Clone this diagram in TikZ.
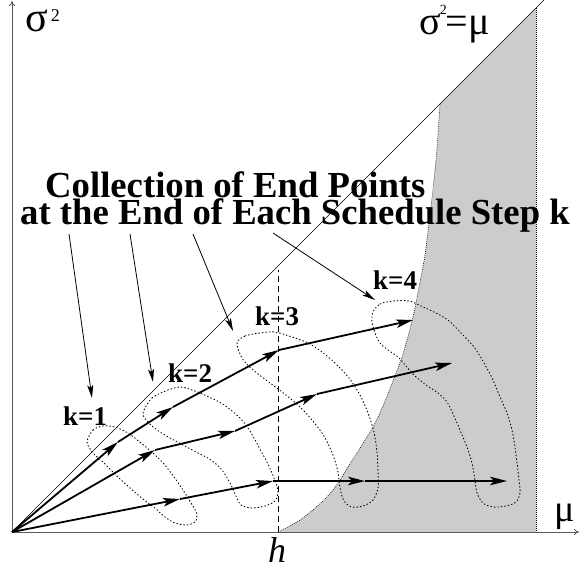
\documentclass[tikz,border=0pt]{standalone}
\usepackage{fontspec}
\setmainfont{Liberation Serif}
\usetikzlibrary{arrows.meta}
\definecolor{shadegray}{RGB}{204,204,204}
\definecolor{axisgray}{RGB}{90,90,90}
\begin{document}
\begin{tikzpicture}[x=1pt,y=-1pt,
  traj/.style={line width=1.8pt,-{Stealth[length=17pt,width=8.5pt,inset=4pt]}},
  pointer/.style={line width=0.8pt,-{Stealth[length=13pt,width=6pt,inset=3pt]}},
  blob/.style={line width=0.9pt,dash pattern=on 0.9pt off 2.6pt,line cap=round},
  bound/.style={line width=0.6pt,dash pattern=on 0.8pt off 1.2pt},
  axis/.style={line width=0.8pt,draw=axisgray,-{To[length=5pt,width=6pt]}},
  bigtxt/.style={font=\fontsize{36.7}{40}\selectfont\bfseries,inner sep=0pt,anchor=base west},
  klab/.style={font=\fontsize{27}{30}\selectfont\bfseries,inner sep=0pt,anchor=base west},
  symtxt/.style={inner sep=0pt,anchor=base west}]
\useasboundingbox (0,0) rectangle (580,571);
\fill[white] (0,0) rectangle (580,571);
% shaded region
\fill[shadegray] plot[smooth] coordinates {(278,532) (300,520) (323,501) (336,486) (348,467) (360,448) (373,427) (383,406) (393,381) (402,357) (409,333) (415,308) (420,282) (425,255) (430,215) (436,160) (440,104)} -- (536,8) -- (536,532) -- cycle;
\draw[bound] plot[smooth] coordinates {(278,532) (300,520) (323,501) (336,486) (348,467) (360,448) (373,427) (383,406) (393,381) (402,357) (409,333) (415,308) (420,282) (425,255) (430,215) (436,160) (440,104)};
\draw[bound] (536,8) -- (536,532);
% coordinates
\coordinate (O) at (12,532);
\coordinate (diagend) at (544,0);
\coordinate (xend) at (579,532);
\coordinate (yend) at (12,1);
\coordinate (htop) at (278,270);
\coordinate (hbot) at (278,532);
% diagonal
\draw[line width=0.5pt] (O) -- (diagend);
% axes
\draw[axis] (O) -- (xend);
\draw[axis] (O) -- (yend);
% dashed h line
\draw[line width=0.8pt,dash pattern=on 6pt off 4pt] (hbot) -- (htop);
% blobs
\draw[blob] plot[smooth cycle] coordinates {(87,442) (93,430) (103,426) (115,427) (128,433) (141,443) (153,453) (164,464) (174,477) (183,490) (191,503) (197,514) (195,522) (186,525) (175,523) (165,517) (156,509) (143,499) (130,488) (117,476) (104,463) (93,453)};
\draw[blob] plot[smooth cycle] coordinates {(143,413) (152,398) (168,390) (181,387) (195,391) (209,397) (221,403) (232,411) (241,419) (248,428) (254,438) (261,451) (268,464) (274,478) (278,491) (275,501) (265,506) (252,508) (241,505) (236,496) (230,483) (222,470) (211,460) (198,453) (185,446) (170,438) (157,430) (148,422)};
\draw[blob] plot[smooth cycle] coordinates {(237,343) (245,336) (260,333) (275,332) (292,337) (308,343) (322,352) (336,364) (349,378) (360,395) (368,413) (374,432) (377,452) (378,472) (378,488) (373,500) (363,506) (352,507) (344,501) (340,488) (338,472) (333,455) (324,436) (312,420) (298,405) (282,392) (266,380) (252,369) (242,358)};
\draw[blob] plot[smooth cycle] coordinates {(373,312) (380,304) (393,301) (409,301) (421,306) (434,312) (448,320) (461,333) (474,347) (484,363) (493,380) (500,397) (507,413) (512,430) (515,447) (517,463) (519,480) (520,493) (516,502) (506,506) (493,507) (483,503) (477,493) (475,480) (472,463) (467,447) (460,430) (453,414) (447,402) (438,393) (426,385) (415,376) (406,366) (398,357) (388,350) (380,343) (375,333) (372,322)};
% trajectory points
\coordinate (a1) at (118,442); \coordinate (a2) at (173,407); \coordinate (a3) at (279,350); \coordinate (a4) at (413,320);
\coordinate (b1) at (155,450); \coordinate (b2) at (235,431); \coordinate (b3) at (317,394); \coordinate (b4) at (452,363);
\coordinate (c1) at (180,499); \coordinate (c2) at (273,481); \coordinate (c3) at (365,481); \coordinate (c4) at (507,481);
\draw[traj] (O) -- (a1); \draw[traj] (a1) -- (a2); \draw[traj] (a2) -- (a3); \draw[traj] (a3) -- (a4);
\draw[traj] (O) -- (b1); \draw[traj] (b1) -- (b2); \draw[traj] (b2) -- (b3); \draw[traj] (b3) -- (b4);
\draw[traj] (O) -- (c1); \draw[traj] (c1) -- (c2); \draw[traj] (c2) -- (c3); \draw[traj] (c3) -- (c4);
% texts
\node[bigtxt] (t1) at (45,197) {Collection of End Points};
\node[bigtxt] (t2) at (20,224) {at the End of Each Schedule Step k};
\node[klab] (k1) at (63,425) {k=1};
\node[klab] (k2) at (168,382) {k=2};
\node[klab] (k3) at (255,325) {k=3};
\node[klab] (k4) at (373,289) {k=4};
% pointers
\coordinate (p1) at (69,234); \coordinate (q1) at (92,398);
\coordinate (p2) at (130,234); \coordinate (q2) at (153,382);
\coordinate (p3) at (193,234); \coordinate (q3) at (233,331);
\coordinate (p4) at (273,233); \coordinate (q4) at (375,300);
\draw[pointer] (p1) -- (q1);
\draw[pointer] (p2) -- (q2);
\draw[pointer] (p3) -- (q3);
\draw[pointer] (p4) -- (q4);
% axis labels
\node[symtxt] (ylab) at (25,31) {\fontsize{42}{42}\selectfont σ\kern3pt\raisebox{10pt}{\fontsize{18}{18}\selectfont 2}};
\node[symtxt] (xlab) at (554,521) {\fontsize{38}{38}\selectfont μ};
\node[symtxt] (hlab) at (268,562) {\fontsize{36}{36}\selectfont\itshape h};
\node[symtxt] (eqlab) at (419,34) {\fontsize{40}{40}\selectfont σ\kern-1pt\raisebox{20pt}{\fontsize{14}{14}\selectfont 2}\kern-1pt=\kern0.5ptμ};
\end{tikzpicture}
\end{document}
